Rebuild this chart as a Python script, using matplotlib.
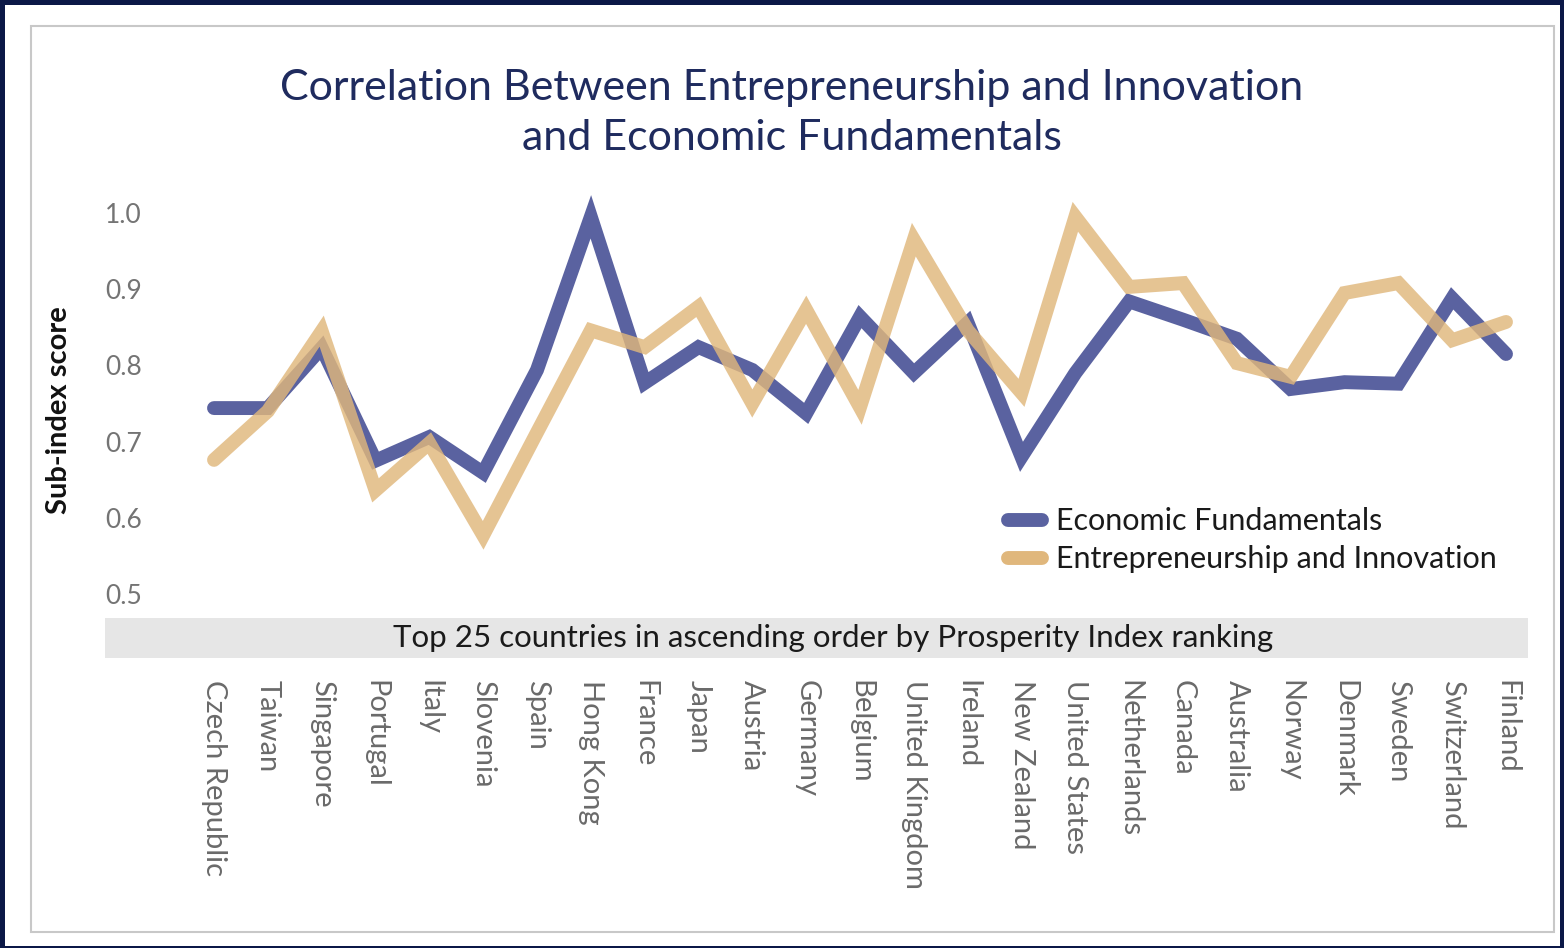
import matplotlib
matplotlib.use("Agg")
import matplotlib.pyplot as plt
from matplotlib.patches import Rectangle

countries = ["Czech Republic", "Taiwan", "Singapore", "Portugal", "Italy", "Slovenia",
             "Spain", "Hong Kong", "France", "Japan", "Austria", "Germany", "Belgium",
             "United Kingdom", "Ireland", "New Zealand", "United States", "Netherlands",
             "Canada", "Australia", "Norway", "Denmark", "Sweden", "Switzerland", "Finland"]
economic = [0.744, 0.744, 0.823, 0.675, 0.706, 0.659, 0.794, 0.995, 0.777, 0.824,
            0.794, 0.737, 0.864, 0.790, 0.856, 0.680, 0.790, 0.884, 0.860, 0.835,
            0.769, 0.778, 0.776, 0.888, 0.815]
entrep = [0.676, 0.740, 0.845, 0.636, 0.698, 0.577, 0.712, 0.846, 0.824, 0.877,
          0.750, 0.873, 0.745, 0.965, 0.846, 0.764, 0.995, 0.903, 0.908, 0.803,
          0.785, 0.895, 0.908, 0.833, 0.857]
yticks = [0.5, 0.6, 0.7, 0.8, 0.9, 1.0]

W, H = 1564, 948
fig = plt.figure(figsize=(W / 100, H / 100), dpi=100)
fig.patch.set_facecolor("#0b1847")

def px_rect(x0, y0, x1, y1, **kw):
    r = Rectangle((x0 / W, 1 - y1 / H), (x1 - x0) / W, (y1 - y0) / H,
                  transform=fig.transFigure, **kw)
    fig.add_artist(r)
    return r

px_rect(5, 5, 1560, 946, facecolor="white", edgecolor="none", zorder=0)
px_rect(31, 26, 1554, 932, facecolor="white", edgecolor="#c8c8c8", linewidth=1.5, zorder=0)
px_rect(105, 618, 1528, 658, facecolor="#e6e6e6", edgecolor="none", zorder=1)

font = ["Lato", "DejaVu Sans"]
fig.text(792 / W, 1 - 113 / H,
         "Correlation Between Entrepreneurship and Innovation\nand Economic Fundamentals",
         ha="center", va="center", fontsize=31, color="#1f2b5e", family=font,
         linespacing=1.38)
fig.text(833 / W, 1 - 638 / H, "Top 25 countries in ascending order by Prosperity Index ranking",
         ha="center", va="center", fontsize=22.5, color="#1a1a1a", family=font)

left, right, bottom, top = 150, 1528, 594, 213
ax = fig.add_axes([left / W, 1 - bottom / H, (right - left) / W, (bottom - top) / H])
ax.set_facecolor("none")
x = list(range(len(countries)))
ppu = (1506 - 214) / 24
ax.set_xlim(-(214 - left) / ppu, 24 + (right - 1506) / ppu)
ax.set_ylim(0.5, 1.0)

ax.plot(x, economic, color="#5a62a0", linewidth=10, solid_capstyle="round",
        solid_joinstyle="miter", clip_on=False, label="Economic Fundamentals", zorder=3)
ax.plot(x, entrep, color="#e0b77c", linewidth=10, alpha=0.82, solid_capstyle="round",
        solid_joinstyle="miter", clip_on=False, label="Entrepreneurship and Innovation", zorder=4)

for s in ax.spines.values():
    s.set_visible(False)
ax.set_yticks(yticks)
ax.set_yticklabels([f"{v:.1f}" for v in yticks], family=font, fontsize=19, color="#747474")
ax.set_xticks(x)
ax.set_xticklabels(countries, rotation=-90, family=font, fontsize=21, color="#6a6a6a",
                   va="top", ha="center")
ax.tick_params(axis="both", length=0)
ax.tick_params(axis="y", pad=6)
ax.tick_params(axis="x", pad=62)
ax.set_ylabel("Sub-index score", family=font, fontsize=21, fontweight="bold", color="#111111")
ax.yaxis.set_label_coords((72 - left) / (right - left), (bottom - 410) / (bottom - top))

leg = ax.legend(loc="upper left", bbox_to_anchor=(996 / W, 1 - 495 / H),
                bbox_transform=fig.transFigure, frameon=False, handlelength=1.1,
                handletextpad=0.45, labelspacing=0.33, borderaxespad=0,
                prop={"family": font, "size": 22})
for t in leg.get_texts():
    t.set_color("#1a1a1a")
for h in leg.get_lines():
    h.set_alpha(1.0)

fig.savefig("out.png", dpi=100, facecolor=fig.get_facecolor())
